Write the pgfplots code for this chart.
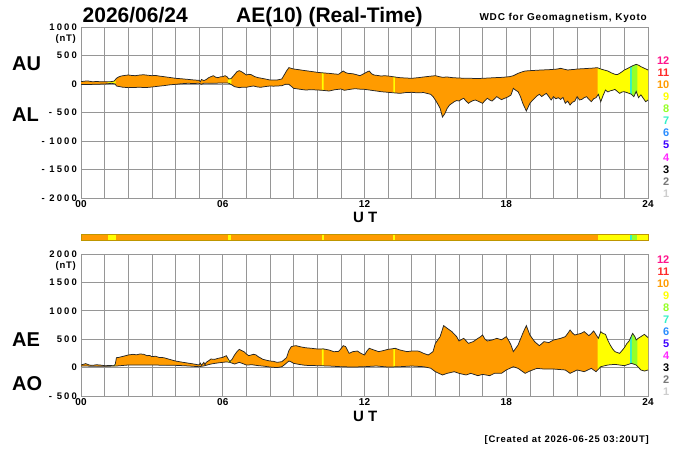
\documentclass[border=0pt]{standalone}
\usepackage{pgfplots}
\usepackage{pgfplotstable}
\pgfplotsset{compat=1.18}
\usepgfplotslibrary{fillbetween}
\usepackage{fontspec}
\setmainfont{Liberation Sans}
\newfontfamily\tickf[LetterSpace=22]{Liberation Sans}
\newfontfamily\smallf[LetterSpace=8]{Liberation Sans}

\definecolor{cA}{RGB}{255,20,140}
\definecolor{cB}{RGB}{255,40,40}
\definecolor{cC}{RGB}{255,155,0}
\definecolor{cD}{RGB}{255,255,0}
\definecolor{cE}{RGB}{150,255,40}
\definecolor{cF}{RGB}{50,240,200}
\definecolor{cG}{RGB}{40,140,255}
\definecolor{cH}{RGB}{60,0,255}
\definecolor{cI}{RGB}{255,40,255}
\definecolor{cJ}{RGB}{0,0,0}
\definecolor{cK}{RGB}{120,120,120}
\definecolor{cL}{RGB}{205,205,205}
\definecolor{gridc}{RGB}{150,150,150}
\definecolor{barb}{RGB}{190,150,0}

\pgfplotstableread{
t v
0 41
0.15 50
0.3 53
0.5 38
0.65 45
0.8 40
1.0 41
1.2 38
1.4 50
1.5 100
1.6 125
1.7 140
1.85 150
2.0 158
2.15 150
2.3 146
2.5 158
2.65 162
2.8 155
3.0 146
3.15 150
3.3 140
3.5 129
3.75 115
4.0 100
4.25 92
4.5 82
4.75 72
5.0 64
5.05 40
5.1 80
5.2 60
5.3 78
5.4 110
5.5 129
5.6 146
5.7 120
5.8 111
5.9 125
6.0 129
6.1 146
6.2 120
6.25 88
6.35 95
6.45 140
6.6 216
6.7 234
6.8 215
6.9 187
7.0 158
7.1 170
7.2 165
7.35 130
7.5 111
7.65 100
7.8 88
8.0 70
8.3 70
8.5 88
8.6 158
8.7 230
8.8 287
8.9 275
9.0 263
9.15 255
9.3 246
9.5 234
9.75 220
10.0 205
10.25 195
10.5 187
10.7 178
10.9 170
11.0 200
11.1 228
11.2 200
11.3 187
11.5 180
11.65 165
11.8 146
11.9 165
12.0 187
12.1 210
12.2 228
12.3 180
12.4 158
12.55 150
12.7 140
12.85 145
13.0 140
13.25 125
13.5 111
13.75 105
14.0 100
14.25 110
14.5 123
14.75 135
15.0 146
15.15 130
15.3 118
15.5 123
15.75 110
16.0 105
16.25 100
16.5 100
16.75 95
17.0 100
17.25 105
17.5 111
17.75 115
18.0 123
18.15 130
18.3 146
18.5 187
18.65 210
18.8 228
19.0 234
19.25 240
19.5 246
19.75 250
20.0 257
20.15 262
20.3 275
20.45 260
20.6 246
20.75 252
20.9 257
21.0 263
21.25 268
21.5 275
21.7 280
21.85 287
22.0 263
22.15 245
22.3 228
22.45 195
22.6 170
22.7 165
22.8 187
22.9 215
23.0 246
23.1 265
23.2 287
23.35 320
23.5 345
23.6 330
23.7 304
23.85 275
24.0 246
}\AUtab

\pgfplotstableread{
t v
0 -6
0.25 -10
0.5 -6
0.75 -3
1.0 0
1.3 12
1.45 0
1.5 -35
1.75 -55
2.0 -64
2.25 -60
2.5 -58
2.75 -62
3.0 -53
3.25 -40
3.5 -29
3.75 -15
4.0 -6
4.25 5
4.5 12
4.75 10
5.0 12
5.1 -5
5.2 15
5.5 12
5.75 15
6.0 18
6.25 15
6.4 -20
6.5 -47
6.7 -64
6.85 -55
7.0 -58
7.15 -45
7.3 -35
7.45 -50
7.6 -58
7.8 -45
8.0 -35
8.15 -38
8.3 -35
8.5 -30
8.65 -6
8.8 -6
9.0 -76
9.15 -85
9.3 -94
9.5 -105
9.75 -100
10.0 -105
10.25 -112
10.5 -123
10.75 -100
11.0 -88
11.15 -110
11.3 -100
11.45 -90
11.6 -82
11.8 -90
12.0 -94
12.2 -105
12.4 -117
12.55 -125
12.7 -135
12.85 -140
13.0 -146
13.25 -155
13.5 -164
13.75 -150
14.0 -146
14.25 -155
14.5 -150
14.65 -165
14.8 -181
14.9 -220
15.0 -281
15.1 -350
15.2 -427
15.3 -580
15.4 -520
15.5 -427
15.6 -369
15.7 -340
15.8 -310
15.9 -290
16.0 -298
16.1 -270
16.2 -251
16.3 -300
16.4 -339
16.5 -310
16.6 -290
16.7 -281
16.85 -310
17.0 -339
17.1 -290
17.2 -251
17.3 -280
17.4 -300
17.5 -260
17.6 -222
17.7 -250
17.8 -275
17.9 -255
18.0 -240
18.1 -220
18.2 -193
18.3 -76
18.4 -110
18.5 -135
18.6 -220
18.7 -339
18.85 -474
19.0 -339
19.1 -290
19.2 -251
19.3 -210
19.4 -181
19.5 -220
19.6 -190
19.7 -164
19.8 -220
19.9 -281
20.0 -222
20.1 -260
20.2 -240
20.3 -270
20.4 -235
20.5 -339
20.6 -300
20.7 -369
20.8 -320
20.9 -300
21.0 -222
21.1 -280
21.2 -270
21.3 -240
21.4 -222
21.5 -270
21.6 -310
21.7 -260
21.8 -240
21.9 -181
22.0 -310
22.1 -200
22.2 -105
22.3 -140
22.4 -120
22.5 -110
22.6 -94
22.7 -130
22.8 -164
22.9 -140
23.0 -135
23.1 -150
23.2 -164
23.3 -180
23.4 -222
23.5 -130
23.6 -240
23.7 -190
23.8 -250
23.9 -310
24.0 -281
}\ALtab

\pgfplotstableread{
t v
0 46
0.2 70
0.35 45
0.5 40
0.65 50
0.8 46
1.0 34
1.2 36
1.4 34
1.45 60
1.5 175
1.6 180
1.8 200
2.0 222
2.2 234
2.35 225
2.5 240
2.65 235
2.8 210
2.9 215
3.0 193
3.15 200
3.3 180
3.5 175
3.75 145
4.0 116
4.25 98
4.5 81
4.75 65
5.0 46
5.05 80
5.1 40
5.2 92
5.25 50
5.3 92
5.4 120
5.5 151
5.65 145
5.8 163
6.0 180
6.15 210
6.3 104
6.4 150
6.5 222
6.6 280
6.7 322
6.8 300
6.9 280
7.0 240
7.1 210
7.3 234
7.4 225
7.5 193
7.7 146
7.85 130
8.0 116
8.15 110
8.3 93
8.5 104
8.7 175
8.8 300
8.9 368
9.0 380
9.1 386
9.3 365
9.5 350
9.75 340
10.0 328
10.25 330
10.5 310
10.7 280
10.9 285
11.0 330
11.1 386
11.2 370
11.35 251
11.5 280
11.7 292
11.85 251
12.0 222
12.1 290
12.2 340
12.4 310
12.6 281
12.8 300
13.0 322
13.15 330
13.3 340
13.5 310
13.8 281
14.0 292
14.3 290
14.5 251
14.7 222
14.9 281
15.0 427
15.2 545
15.35 739
15.5 692
15.7 633
15.9 545
16.0 469
16.2 515
16.4 427
16.6 457
16.8 515
16.9 540
17.0 574
17.1 500
17.2 469
17.4 486
17.6 515
17.8 490
18.0 545
18.1 480
18.2 398
18.3 281
18.5 398
18.7 603
18.85 739
19.0 574
19.2 457
19.4 386
19.6 457
19.8 440
20.0 486
20.15 500
20.3 515
20.5 545
20.6 600
20.7 662
20.8 610
20.9 574
21.0 586
21.15 600
21.3 633
21.5 562
21.6 600
21.7 645
21.8 580
21.9 515
22.0 633
22.1 600
22.2 586
22.3 480
22.4 398
22.5 330
22.6 281
22.7 265
22.8 251
22.9 300
23.0 351
23.1 420
23.2 469
23.35 603
23.45 540
23.5 486
23.6 520
23.7 545
23.85 586
24.0 527
}\AEtab

\pgfplotstableread{
t v
0 28
0.5 25
1.0 22
1.4 28
1.5 28
2.0 46
2.5 45
3.0 46
3.5 42
4.0 40
4.5 30
5.0 16
5.2 30
5.5 63
5.75 80
6.0 93
6.15 100
6.3 93
6.5 63
6.7 93
6.85 70
7.0 46
7.25 50
7.5 35
7.75 25
8.0 10
8.3 0
8.5 15
8.6 46
8.8 116
8.9 100
9.0 75
9.25 55
9.5 40
10.0 34
10.5 28
11.0 16
11.5 10
12.0 16
12.5 28
13.0 10
13.5 16
14.0 28
14.5 16
14.8 -10
15.0 -72
15.3 -130
15.5 -101
15.8 -72
16.0 -101
16.3 -130
16.5 -101
16.8 -142
17.0 -119
17.3 -142
17.5 -101
17.8 -101
18.0 -42
18.3 16
18.5 -13
18.8 -101
19.0 -60
19.3 -13
19.6 -25
20.0 -25
20.5 -42
20.7 -101
21.0 -42
21.3 -72
21.6 -13
21.8 -72
22.0 16
22.3 46
22.6 57
23.0 34
23.3 75
23.5 46
23.7 -42
23.85 -60
24.0 -42
}\AOtab

\pgfplotsset{
  panel/.style={
    scale only axis, width=567pt,
    xmin=0, xmax=24,
    xtick={0,6,12,18,24}, xticklabels={00,06,12,18,24},
    minor xtick={1,2,3,4,5,7,8,9,10,11,13,14,15,16,17,19,20,21,22,23},
    grid=both,
    major grid style={draw=gridc, line width=0.7pt},
    minor grid style={draw=gridc, line width=0.7pt},
    axis line style={draw=gridc, line width=0.7pt},
    major tick length=0pt, minor tick length=0pt,
    xticklabel style={font=\bfseries\fontsize{10}{12}\selectfont, anchor=north, inner sep=0pt, yshift=-2pt},
    yticklabel style={font=\tickf\bfseries\fontsize{9.5}{11}\selectfont, anchor=east, inner sep=0pt, xshift=-4pt},
  },
  curve/.style={draw=black!85, line width=0.75pt},
}

\begin{document}
\begin{tikzpicture}

% ---------------- top panel AU / AL
\begin{axis}[panel, at={(81pt,-198pt)}, anchor=south west, height=171pt,
  ymin=-2000, ymax=1000, ytick={-2000,-1500,-1000,-500,0,500,1000},
  yticklabels={- 2000,- 1500,- 1000,- 500,0,500,1000}]
\addplot[name path=au, draw=none] table[x=t,y=v] {\AUtab};
\addplot[name path=al, draw=none] table[x=t,y=v] {\ALtab};
\addplot[fill=cC, draw=none] fill between[of=au and al];
\addplot[fill=cD, draw=none] fill between[of=au and al, soft clip={(axis cs:1.13,-2000) rectangle (axis cs:1.47,1000)}];
\addplot[fill=cD, draw=none] fill between[of=au and al, soft clip={(axis cs:6.22,-2000) rectangle (axis cs:6.36,1000)}];
\addplot[fill=cD, draw=none] fill between[of=au and al, soft clip={(axis cs:10.2,-2000) rectangle (axis cs:10.27,1000)}];
\addplot[fill=cD, draw=none] fill between[of=au and al, soft clip={(axis cs:13.22,-2000) rectangle (axis cs:13.29,1000)}];
\addplot[fill=cD, draw=none] fill between[of=au and al, soft clip={(axis cs:21.87,-2000) rectangle (axis cs:24,1000)}];
\addplot[fill=cF, draw=none] fill between[of=au and al, soft clip={(axis cs:23.24,-2000) rectangle (axis cs:23.32,1000)}];
\addplot[fill=cE, draw=none] fill between[of=au and al, soft clip={(axis cs:23.32,-2000) rectangle (axis cs:23.55,1000)}];
\addplot[curve] table[x=t,y=v] {\AUtab};
\addplot[curve] table[x=t,y=v] {\ALtab};
\end{axis}

% ---------------- station bar
\begin{axis}[at={(81pt,-240.3pt)}, anchor=south west, scale only axis,
  width=567pt, height=6.3pt, xmin=0, xmax=24, ymin=0, ymax=1,
  ticks=none, axis on top, axis line style={draw=barb, line width=0.8pt}]
\addplot[fill=cC, draw=none] coordinates {(0,0) (0,1) (24,1) (24,0)} -- cycle;
\addplot[fill=cD, draw=none] coordinates {(1.13,0) (1.13,1) (1.47,1) (1.47,0)} -- cycle;
\addplot[fill=cD, draw=none] coordinates {(6.22,0) (6.22,1) (6.36,1) (6.36,0)} -- cycle;
\addplot[fill=cD, draw=none] coordinates {(10.2,0) (10.2,1) (10.27,1) (10.27,0)} -- cycle;
\addplot[fill=cD, draw=none] coordinates {(13.22,0) (13.22,1) (13.29,1) (13.29,0)} -- cycle;
\addplot[fill=cD, draw=none] coordinates {(21.87,0) (21.87,1) (24,1) (24,0)} -- cycle;
\addplot[fill=cF, draw=none] coordinates {(23.24,0) (23.24,1) (23.32,1) (23.32,0)} -- cycle;
\addplot[fill=cE, draw=none] coordinates {(23.32,0) (23.32,1) (23.55,1) (23.55,0)} -- cycle;
\end{axis}

% ---------------- bottom panel AE / AO
\begin{axis}[panel, at={(81pt,-396pt)}, anchor=south west, height=142pt,
  ymin=-500, ymax=2000, ytick={-500,0,500,1000,1500,2000},
  yticklabels={- 500,0,500,1000,1500,2000}]
\addplot[name path=ae, draw=none] table[x=t,y=v] {\AEtab};
\addplot[name path=ao, draw=none] table[x=t,y=v] {\AOtab};
\addplot[fill=cC, draw=none] fill between[of=ae and ao];
\addplot[fill=cD, draw=none] fill between[of=ae and ao, soft clip={(axis cs:1.13,-500) rectangle (axis cs:1.47,2000)}];
\addplot[fill=cD, draw=none] fill between[of=ae and ao, soft clip={(axis cs:6.22,-500) rectangle (axis cs:6.36,2000)}];
\addplot[fill=cD, draw=none] fill between[of=ae and ao, soft clip={(axis cs:10.2,-500) rectangle (axis cs:10.27,2000)}];
\addplot[fill=cD, draw=none] fill between[of=ae and ao, soft clip={(axis cs:13.22,-500) rectangle (axis cs:13.29,2000)}];
\addplot[fill=cD, draw=none] fill between[of=ae and ao, soft clip={(axis cs:21.87,-500) rectangle (axis cs:24,2000)}];
\addplot[fill=cF, draw=none] fill between[of=ae and ao, soft clip={(axis cs:23.24,-500) rectangle (axis cs:23.32,2000)}];
\addplot[fill=cE, draw=none] fill between[of=ae and ao, soft clip={(axis cs:23.32,-500) rectangle (axis cs:23.55,2000)}];
\addplot[curve] table[x=t,y=v] {\AEtab};
\addplot[curve] table[x=t,y=v] {\AOtab};
\end{axis}

% ---------------- texts
\node[anchor=base west, inner sep=0pt, font=\bfseries\fontsize{21}{24}\selectfont] at (82.5pt,-22.7pt) {2026/06/24};
\node[anchor=base west, inner sep=0pt, font=\bfseries\fontsize{21}{24}\selectfont] at (236pt,-22.7pt) {AE(10) (Real-Time)};
\node[anchor=base east, inner sep=0pt, font=\smallf\bfseries\fontsize{10}{12}\selectfont] at (647pt,-20.7pt) {WDC for Geomagnetism, Kyoto};

\node[anchor=base west, inner sep=0pt, font=\bfseries\fontsize{20}{24}\selectfont] at (12pt,-70pt) {AU};
\node[anchor=base west, inner sep=0pt, font=\bfseries\fontsize{20}{24}\selectfont] at (12pt,-121.7pt) {AL};
\node[anchor=base west, inner sep=0pt, font=\bfseries\fontsize{20}{24}\selectfont] at (12pt,-346pt) {AE};
\node[anchor=base west, inner sep=0pt, font=\bfseries\fontsize{20}{24}\selectfont] at (12pt,-390pt) {AO};

\node[anchor=east, inner sep=0pt, font=\smallf\bfseries\fontsize{9.5}{11}\selectfont] at (76pt,-39.5pt) {(nT)};
\node[anchor=east, inner sep=0pt, font=\smallf\bfseries\fontsize{9.5}{11}\selectfont] at (76pt,-266.5pt) {(nT)};

\node[anchor=base west, inner sep=0pt, font=\bfseries\fontsize{15}{18}\selectfont] at (353pt,-222.5pt) {U T};
\node[anchor=base west, inner sep=0pt, font=\bfseries\fontsize{15}{18}\selectfont] at (353pt,-421.7pt) {U T};

\node[anchor=base east, inner sep=0pt, font=\smallf\bfseries\fontsize{9.5}{11}\selectfont] at (649pt,-442.5pt) {[Created at 2026-06-25 03:20UT]};

% station-count colour key
\foreach \n/\c [count=\k from 0] in {12/cA,11/cB,10/cC,9/cD,8/cE,7/cF,6/cG,5/cH,4/cI,3/cJ,2/cK,1/cL}{
  \node[anchor=east, inner sep=0pt, text=\c, font=\bfseries\fontsize{11}{13}\selectfont] at (669.5pt,{-61pt-12.03pt*\k}) {\n};
  \node[anchor=east, inner sep=0pt, text=\c, font=\bfseries\fontsize{11}{13}\selectfont] at (669.5pt,{-259.3pt-12.06pt*\k}) {\n};
}

\pgfresetboundingbox
\path[use as bounding box] (0pt,0pt) rectangle (700pt,-450pt);
\end{tikzpicture}
\end{document}
